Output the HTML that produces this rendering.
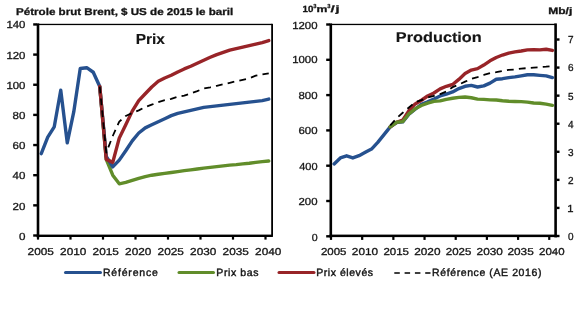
<!DOCTYPE html><html><head><meta charset="utf-8"><style>html,body{margin:0;padding:0;background:#fff;width:580px;height:316px;overflow:hidden}svg{display:block;will-change:transform;filter:blur(0.25px)}text{font-family:"Liberation Sans", sans-serif;fill:#151515;text-rendering:geometricPrecision}</style></head><body>
<svg width="580" height="316" viewBox="0 0 580 316">
<rect width="580" height="316" fill="#fff"/>
<polyline points="99.75,86.56 106.25,159.37 112.75,175.20 119.25,183.79 125.75,182.44 132.25,180.48 138.75,178.37 145.25,176.56 151.75,175.20 158.25,174.30 164.75,173.39 171.25,172.49 177.75,171.58 184.25,170.68 190.75,169.92 197.25,169.02 203.75,168.11 210.25,167.36 216.75,166.61 223.25,165.85 229.75,165.10 236.25,164.65 242.75,163.89 249.25,163.29 255.75,162.39 262.25,161.63 268.75,161.03" fill="none" stroke="#618D2A" stroke-width="3.4" stroke-linejoin="round" stroke-linecap="round"/>
<polyline points="41.25,153.64 47.75,137.06 54.25,126.81 60.75,90.18 67.25,142.79 73.75,111.88 80.25,68.47 86.75,67.72 93.25,72.24 99.75,86.56 106.25,156.51 112.75,166.91 119.25,160.12 125.75,150.78 132.25,140.83 138.75,132.99 145.25,127.86 151.75,124.70 158.25,121.68 164.75,118.67 171.25,115.65 177.75,113.39 184.25,111.88 190.75,110.38 197.25,108.87 203.75,107.36 210.25,106.61 216.75,105.85 223.25,105.10 229.75,104.35 236.25,103.59 242.75,102.84 249.25,102.09 255.75,101.33 262.25,100.58 268.75,99.07" fill="none" stroke="#26518F" stroke-width="3.4" stroke-linejoin="round" stroke-linecap="round"/>
<polyline points="99.75,86.56 106.25,159.37 112.75,162.39 119.25,138.12 125.75,124.70 132.25,111.13 138.75,100.58 145.25,93.79 151.75,87.01 158.25,81.28 164.75,77.97 171.25,75.25 177.75,71.94 184.25,68.92 190.75,66.21 197.25,63.19 203.75,60.18 210.25,57.31 216.75,54.60 223.25,52.34 229.75,50.08 236.25,48.57 242.75,47.06 249.25,45.55 255.75,44.05 262.25,42.54 268.75,40.58" fill="none" stroke="#982428" stroke-width="3.4" stroke-linejoin="round" stroke-linecap="round"/>
<polyline points="99.75,86.56 106.25,152.59 112.75,136.00 119.25,121.68 125.75,115.96 132.25,112.94 138.75,110.38 145.25,107.06 151.75,104.65 158.25,102.09 164.75,100.13 171.25,98.92 177.75,96.81 184.25,95.60 190.75,93.34 197.25,91.08 203.75,88.52 210.25,87.31 216.75,85.81 223.25,84.30 229.75,82.79 236.25,81.28 242.75,79.78 249.25,78.27 255.75,75.70 262.25,74.50 268.75,73.44" fill="none" stroke="#000" stroke-width="1.8" stroke-dasharray="6.8,5.2" stroke-linejoin="round"/>
<rect x="38.00" y="23.80" width="234.00" height="1.30" fill="#000"/>
<rect x="271.20" y="23.80" width="1.80" height="212.00" fill="#000"/>
<rect x="36.70" y="23.40" width="2.60" height="214.00" fill="#000"/>
<rect x="36.70" y="234.60" width="236.20" height="2.40" fill="#000"/>
<rect x="33.20" y="234.30" width="4.00" height="2.40" fill="#000"/>
<rect x="33.20" y="204.15" width="4.00" height="2.40" fill="#000"/>
<rect x="33.20" y="174.00" width="4.00" height="2.40" fill="#000"/>
<rect x="33.20" y="143.85" width="4.00" height="2.40" fill="#000"/>
<rect x="33.20" y="113.70" width="4.00" height="2.40" fill="#000"/>
<rect x="33.20" y="83.55" width="4.00" height="2.40" fill="#000"/>
<rect x="33.20" y="53.40" width="4.00" height="2.40" fill="#000"/>
<rect x="33.20" y="23.25" width="4.00" height="2.40" fill="#000"/>
<rect x="36.90" y="236.00" width="2.20" height="3.60" fill="#000"/>
<rect x="69.40" y="236.00" width="2.20" height="3.60" fill="#000"/>
<rect x="101.90" y="236.00" width="2.20" height="3.60" fill="#000"/>
<rect x="134.40" y="236.00" width="2.20" height="3.60" fill="#000"/>
<rect x="166.90" y="236.00" width="2.20" height="3.60" fill="#000"/>
<rect x="199.40" y="236.00" width="2.20" height="3.60" fill="#000"/>
<rect x="231.90" y="236.00" width="2.20" height="3.60" fill="#000"/>
<rect x="264.40" y="236.00" width="2.20" height="3.60" fill="#000"/>
<polyline points="334.12,163.94 340.35,157.93 346.59,155.82 352.83,157.93 359.06,155.64 365.30,152.29 371.53,149.11 377.77,142.40 384.01,134.64 390.24,126.87 396.48,122.63 402.72,121.93 408.95,114.16 415.19,109.22 421.42,104.28 427.66,101.81 433.90,98.98 440.13,95.98 446.37,94.04 452.60,91.92 458.84,88.57 465.08,86.28 471.31,85.39 477.55,86.98 483.78,85.92 490.02,83.10 496.26,79.22 502.49,78.69 508.73,77.63 514.97,76.92 521.20,75.86 527.44,74.80 533.67,74.80 539.91,75.33 546.15,75.86 552.38,77.63" fill="none" stroke="#26518F" stroke-width="3.4" stroke-linejoin="round" stroke-linecap="round"/>
<polyline points="390.24,126.87 396.48,122.28 402.72,120.16 408.95,110.63 415.19,103.93 421.42,100.22 427.66,95.98 433.90,92.98 440.13,88.92 446.37,86.28 452.60,84.51 458.84,79.39 465.08,73.57 471.31,70.04 477.55,68.63 483.78,65.10 490.02,60.86 496.26,57.51 502.49,55.03 508.73,53.09 514.97,51.86 521.20,50.98 527.44,49.92 533.67,49.74 539.91,49.92 546.15,49.21 552.38,50.45" fill="none" stroke="#982428" stroke-width="3.4" stroke-linejoin="round" stroke-linecap="round"/>
<polyline points="390.24,126.87 396.48,122.28 402.72,121.58 408.95,113.81 415.19,108.87 421.42,105.51 427.66,103.22 433.90,101.28 440.13,100.92 446.37,99.34 452.60,98.28 458.84,97.39 465.08,97.04 471.31,97.75 477.55,99.16 483.78,99.34 490.02,99.87 496.26,100.04 502.49,100.75 508.73,101.28 514.97,101.45 521.20,101.63 527.44,102.16 533.67,103.04 539.91,103.22 546.15,104.10 552.38,105.34" fill="none" stroke="#618D2A" stroke-width="3.4" stroke-linejoin="round" stroke-linecap="round"/>
<polyline points="390.24,125.46 396.48,118.40 402.72,112.75 408.95,107.46 415.19,102.16 421.42,100.04 427.66,97.57 433.90,95.81 440.13,94.04 446.37,91.57 452.60,87.16 458.84,84.51 465.08,81.69 471.31,78.86 477.55,77.10 483.78,74.98 490.02,73.21 496.26,72.16 502.49,70.92 508.73,69.86 514.97,69.51 521.20,68.63 527.44,68.10 533.67,67.57 539.91,67.21 546.15,66.68 552.38,65.98" fill="none" stroke="#000" stroke-width="1.8" stroke-dasharray="6.8,5.2" stroke-linejoin="round"/>
<rect x="331.00" y="23.80" width="224.50" height="1.30" fill="#000"/>
<rect x="329.50" y="23.40" width="2.60" height="214.00" fill="#000"/>
<rect x="554.30" y="23.40" width="2.60" height="214.00" fill="#000"/>
<rect x="329.50" y="234.60" width="227.40" height="2.50" fill="#000"/>
<rect x="326.20" y="235.10" width="4.00" height="2.40" fill="#000"/>
<rect x="326.20" y="199.80" width="4.00" height="2.40" fill="#000"/>
<rect x="326.20" y="164.50" width="4.00" height="2.40" fill="#000"/>
<rect x="326.20" y="129.20" width="4.00" height="2.40" fill="#000"/>
<rect x="326.20" y="93.90" width="4.00" height="2.40" fill="#000"/>
<rect x="326.20" y="58.60" width="4.00" height="2.40" fill="#000"/>
<rect x="326.20" y="23.30" width="4.00" height="2.40" fill="#000"/>
<rect x="556.50" y="234.80" width="3.00" height="2.40" fill="#000"/>
<rect x="556.50" y="206.73" width="3.00" height="2.40" fill="#000"/>
<rect x="556.50" y="178.66" width="3.00" height="2.40" fill="#000"/>
<rect x="556.50" y="150.59" width="3.00" height="2.40" fill="#000"/>
<rect x="556.50" y="122.52" width="3.00" height="2.40" fill="#000"/>
<rect x="556.50" y="94.45" width="3.00" height="2.40" fill="#000"/>
<rect x="556.50" y="66.38" width="3.00" height="2.40" fill="#000"/>
<rect x="556.50" y="38.31" width="3.00" height="2.40" fill="#000"/>
<rect x="329.90" y="236.30" width="2.20" height="3.60" fill="#000"/>
<rect x="361.08" y="236.30" width="2.20" height="3.60" fill="#000"/>
<rect x="392.26" y="236.30" width="2.20" height="3.60" fill="#000"/>
<rect x="423.44" y="236.30" width="2.20" height="3.60" fill="#000"/>
<rect x="454.62" y="236.30" width="2.20" height="3.60" fill="#000"/>
<rect x="485.80" y="236.30" width="2.20" height="3.60" fill="#000"/>
<rect x="516.98" y="236.30" width="2.20" height="3.60" fill="#000"/>
<rect x="548.16" y="236.30" width="2.20" height="3.60" fill="#000"/>
<text x="25.44" y="239.86" font-size="10.20" textLength="6.47" lengthAdjust="spacingAndGlyphs" text-anchor="end" stroke="#151515" stroke-width="0.30">0</text>
<text x="25.44" y="209.62" font-size="10.20" textLength="12.82" lengthAdjust="spacingAndGlyphs" text-anchor="end" stroke="#151515" stroke-width="0.30">20</text>
<text x="25.44" y="179.42" font-size="10.20" textLength="12.82" lengthAdjust="spacingAndGlyphs" text-anchor="end" stroke="#151515" stroke-width="0.30">40</text>
<text x="25.44" y="149.26" font-size="10.20" textLength="12.82" lengthAdjust="spacingAndGlyphs" text-anchor="end" stroke="#151515" stroke-width="0.30">60</text>
<text x="25.44" y="118.98" font-size="10.20" textLength="12.82" lengthAdjust="spacingAndGlyphs" text-anchor="end" stroke="#151515" stroke-width="0.30">80</text>
<text x="25.44" y="88.70" font-size="10.20" textLength="19.03" lengthAdjust="spacingAndGlyphs" text-anchor="end" stroke="#151515" stroke-width="0.30">100</text>
<text x="25.44" y="58.54" font-size="10.20" textLength="19.03" lengthAdjust="spacingAndGlyphs" text-anchor="end" stroke="#151515" stroke-width="0.30">120</text>
<text x="25.44" y="28.39" font-size="10.20" textLength="19.03" lengthAdjust="spacingAndGlyphs" text-anchor="end" stroke="#151515" stroke-width="0.30">140</text>
<text x="317.56" y="240.50" font-size="10.20" textLength="5.91" lengthAdjust="spacingAndGlyphs" text-anchor="end" stroke="#151515" stroke-width="0.30">0</text>
<text x="317.56" y="205.06" font-size="10.20" textLength="19.04" lengthAdjust="spacingAndGlyphs" text-anchor="end" stroke="#151515" stroke-width="0.30">200</text>
<text x="317.56" y="169.62" font-size="10.20" textLength="18.34" lengthAdjust="spacingAndGlyphs" text-anchor="end" stroke="#151515" stroke-width="0.30">400</text>
<text x="317.56" y="134.18" font-size="10.20" textLength="19.04" lengthAdjust="spacingAndGlyphs" text-anchor="end" stroke="#151515" stroke-width="0.30">600</text>
<text x="317.56" y="98.74" font-size="10.20" textLength="19.04" lengthAdjust="spacingAndGlyphs" text-anchor="end" stroke="#151515" stroke-width="0.30">800</text>
<text x="317.56" y="63.30" font-size="10.20" textLength="25.38" lengthAdjust="spacingAndGlyphs" text-anchor="end" stroke="#151515" stroke-width="0.30">1000</text>
<text x="317.56" y="28.56" font-size="10.20" textLength="25.38" lengthAdjust="spacingAndGlyphs" text-anchor="end" stroke="#151515" stroke-width="0.30">1200</text>
<text x="568.00" y="240.46" font-size="10.20" textLength="5.56" lengthAdjust="spacingAndGlyphs" text-anchor="start" stroke="#151515" stroke-width="0.30">0</text>
<text x="567.30" y="212.39" font-size="10.20" textLength="6.26" lengthAdjust="spacingAndGlyphs" text-anchor="start" stroke="#151515" stroke-width="0.30">1</text>
<text x="568.00" y="184.32" font-size="10.20" textLength="5.56" lengthAdjust="spacingAndGlyphs" text-anchor="start" stroke="#151515" stroke-width="0.30">2</text>
<text x="568.00" y="156.25" font-size="10.20" textLength="5.56" lengthAdjust="spacingAndGlyphs" text-anchor="start" stroke="#151515" stroke-width="0.30">3</text>
<text x="568.00" y="128.18" font-size="10.20" textLength="5.56" lengthAdjust="spacingAndGlyphs" text-anchor="start" stroke="#151515" stroke-width="0.30">4</text>
<text x="568.00" y="99.54" font-size="10.20" textLength="5.56" lengthAdjust="spacingAndGlyphs" text-anchor="start" stroke="#151515" stroke-width="0.30">5</text>
<text x="568.00" y="71.48" font-size="10.20" textLength="5.56" lengthAdjust="spacingAndGlyphs" text-anchor="start" stroke="#151515" stroke-width="0.30">6</text>
<text x="568.00" y="43.41" font-size="10.20" textLength="5.56" lengthAdjust="spacingAndGlyphs" text-anchor="start" stroke="#151515" stroke-width="0.30">7</text>
<text x="40.75" y="255.30" font-size="10.00" textLength="26.26" lengthAdjust="spacingAndGlyphs" text-anchor="middle" stroke="#151515" stroke-width="0.30">2005</text>
<text x="333.72" y="255.30" font-size="10.00" textLength="25.56" lengthAdjust="spacingAndGlyphs" text-anchor="middle" stroke="#151515" stroke-width="0.30">2005</text>
<text x="73.26" y="255.30" font-size="10.00" textLength="26.26" lengthAdjust="spacingAndGlyphs" text-anchor="middle" stroke="#151515" stroke-width="0.30">2010</text>
<text x="364.97" y="255.30" font-size="10.00" textLength="26.26" lengthAdjust="spacingAndGlyphs" text-anchor="middle" stroke="#151515" stroke-width="0.30">2010</text>
<text x="105.76" y="255.30" font-size="10.00" textLength="26.26" lengthAdjust="spacingAndGlyphs" text-anchor="middle" stroke="#151515" stroke-width="0.30">2015</text>
<text x="396.21" y="255.30" font-size="10.00" textLength="25.56" lengthAdjust="spacingAndGlyphs" text-anchor="middle" stroke="#151515" stroke-width="0.30">2015</text>
<text x="138.24" y="255.30" font-size="10.00" textLength="26.26" lengthAdjust="spacingAndGlyphs" text-anchor="middle" stroke="#151515" stroke-width="0.30">2020</text>
<text x="427.33" y="255.30" font-size="10.00" textLength="26.26" lengthAdjust="spacingAndGlyphs" text-anchor="middle" stroke="#151515" stroke-width="0.30">2020</text>
<text x="170.74" y="255.30" font-size="10.00" textLength="26.26" lengthAdjust="spacingAndGlyphs" text-anchor="middle" stroke="#151515" stroke-width="0.30">2025</text>
<text x="458.58" y="255.30" font-size="10.00" textLength="25.56" lengthAdjust="spacingAndGlyphs" text-anchor="middle" stroke="#151515" stroke-width="0.30">2025</text>
<text x="203.26" y="255.30" font-size="10.00" textLength="26.26" lengthAdjust="spacingAndGlyphs" text-anchor="middle" stroke="#151515" stroke-width="0.30">2030</text>
<text x="489.70" y="255.30" font-size="10.00" textLength="26.26" lengthAdjust="spacingAndGlyphs" text-anchor="middle" stroke="#151515" stroke-width="0.30">2030</text>
<text x="235.74" y="255.30" font-size="10.00" textLength="26.26" lengthAdjust="spacingAndGlyphs" text-anchor="middle" stroke="#151515" stroke-width="0.30">2035</text>
<text x="520.59" y="255.30" font-size="10.00" textLength="26.26" lengthAdjust="spacingAndGlyphs" text-anchor="middle" stroke="#151515" stroke-width="0.30">2035</text>
<text x="268.26" y="255.30" font-size="10.00" textLength="26.26" lengthAdjust="spacingAndGlyphs" text-anchor="middle" stroke="#151515" stroke-width="0.30">2040</text>
<text x="551.84" y="255.30" font-size="10.00" textLength="25.56" lengthAdjust="spacingAndGlyphs" text-anchor="middle" stroke="#151515" stroke-width="0.30">2040</text>
<text x="16.06" y="14.95" font-size="9.90" font-weight="bold" textLength="217.20" lengthAdjust="spacingAndGlyphs" text-anchor="start" stroke="#151515" stroke-width="0.30">P&#233;trole brut Brent, $ US de 2015 le baril</text>
<text x="135.68" y="43.60" font-size="14.60" font-weight="bold" textLength="29.26" lengthAdjust="spacingAndGlyphs" text-anchor="start" stroke="#151515" stroke-width="0.15">Prix</text>
<text x="395.86" y="41.90" font-size="14.20" font-weight="bold" textLength="85.90" lengthAdjust="spacingAndGlyphs" text-anchor="start" stroke="#151515" stroke-width="0.15">Production</text>
<text x="302.60" y="12.30" font-size="9.00" font-weight="bold" textLength="10.80" lengthAdjust="spacingAndGlyphs" stroke="#151515" stroke-width="0.3">10</text>
<text x="313.30" y="8.30" font-size="5.80" font-weight="bold" textLength="3.20" lengthAdjust="spacingAndGlyphs" stroke="#151515" stroke-width="0.3">3</text>
<text x="316.60" y="12.30" font-size="9.00" font-weight="bold" textLength="10.90" lengthAdjust="spacingAndGlyphs" stroke="#151515" stroke-width="0.3">m</text>
<text x="327.30" y="8.30" font-size="5.80" font-weight="bold" textLength="3.20" lengthAdjust="spacingAndGlyphs" stroke="#151515" stroke-width="0.3">3</text>
<text x="330.40" y="12.30" font-size="9.00" font-weight="bold" textLength="4.20" lengthAdjust="spacingAndGlyphs" stroke="#151515" stroke-width="0.3">/</text>
<text x="335.40" y="12.30" font-size="9.00" font-weight="bold" textLength="4.00" lengthAdjust="spacingAndGlyphs" stroke="#151515" stroke-width="0.3">j</text>
<text x="548.24" y="13.60" font-size="9.40" font-weight="bold" textLength="24.08" lengthAdjust="spacingAndGlyphs" text-anchor="start" stroke="#151515" stroke-width="0.30">Mb/j</text>
<text x="102.92" y="276.00" font-size="10.50" textLength="54.90" lengthAdjust="spacing" text-anchor="start" stroke="#151515" stroke-width="0.40">R&#233;f&#233;rence</text>
<text x="216.30" y="276.00" font-size="10.50" textLength="42.08" lengthAdjust="spacing" text-anchor="start" stroke="#151515" stroke-width="0.40">Prix bas</text>
<text x="316.30" y="276.00" font-size="10.50" textLength="56.70" lengthAdjust="spacing" text-anchor="start" stroke="#151515" stroke-width="0.40">Prix &#233;lev&#233;s</text>
<text x="432.12" y="276.00" font-size="10.50" textLength="109.26" lengthAdjust="spacing" text-anchor="start" stroke="#151515" stroke-width="0.40">R&#233;f&#233;rence (AE 2016)</text>
<line x1="65.5" y1="272.4" x2="100.5" y2="272.4" stroke="#26518F" stroke-width="3" stroke-linecap="round"/>
<line x1="179.0" y1="272.4" x2="213.5" y2="272.4" stroke="#618D2A" stroke-width="3" stroke-linecap="round"/>
<line x1="279.0" y1="272.4" x2="314.0" y2="272.4" stroke="#982428" stroke-width="3" stroke-linecap="round"/>
<line x1="394.3" y1="273" x2="430.5" y2="273" stroke="#000" stroke-width="1.6" stroke-dasharray="5.5,4.8"/>
</svg></body></html>
